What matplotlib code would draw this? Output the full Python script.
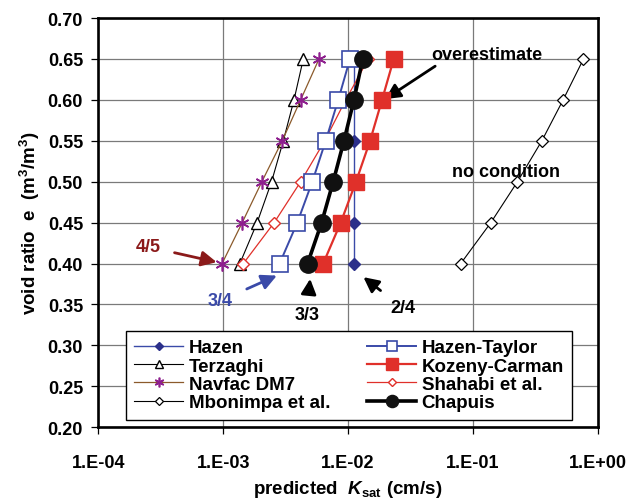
import matplotlib

matplotlib.use("Agg")
import matplotlib.pyplot as plt
import numpy as np
from matplotlib.ticker import FixedLocator, FuncFormatter, NullLocator

plt.rcParams["font.family"] = ["Liberation Sans", "DejaVu Sans"]
plt.rcParams["font.weight"] = "bold"
plt.rcParams["mathtext.fontset"] = "custom"
plt.rcParams["mathtext.rm"] = "Liberation Sans:bold"
plt.rcParams["mathtext.it"] = "Liberation Sans:italic:bold"
plt.rcParams["mathtext.bf"] = "Liberation Sans:bold"

# void ratios (m3/m3), shared by every method
void_ratio = [0.40, 0.45, 0.50, 0.55, 0.60, 0.65]

# predicted Ksat (cm/s) per method
k_hazen = [0.0112, 0.0112, 0.0112, 0.0112, 0.0112, 0.0112]
k_hazen_taylor = [0.00283, 0.00392, 0.00517, 0.00662, 0.00834, 0.01035]
k_terzaghi = [0.00136, 0.00187, 0.00244, 0.00303, 0.00369, 0.00438]
k_kozeny = [0.00632, 0.00873, 0.01157, 0.0150, 0.0187, 0.0232]
k_navfac = [0.00098, 0.00142, 0.00204, 0.00297, 0.00417, 0.00585]
k_shahabi = [0.00145, 0.00256, 0.00417, 0.0065, 0.00957, 0.01452]
k_mbonimpa = [0.0798, 0.139, 0.227, 0.356, 0.527, 0.767]
k_chapuis = [0.00474, 0.00614, 0.0076, 0.00927, 0.01115, 0.0131]

x_ticks = [1e-4, 1e-3, 1e-2, 1e-1, 1e0]
y_ticks = [0.20, 0.25, 0.30, 0.35, 0.40, 0.45, 0.50, 0.55, 0.60, 0.65, 0.70]

# legend reads down the first column, then the second
legend_order = ["Hazen", "Terzaghi", "Navfac DM7", "Mbonimpa et al.",
                "Hazen-Taylor", "Kozeny-Carman", "Shahabi et al.", "Chapuis"]

BLUE = "#3a4aa8"
NAVY = "#2b2f8a"
RED = "#e0302a"
BROWN = "#8b5a2b"
PURPLE = "#8e1f8e"
DARKRED = "#8b1a1a"

fig = plt.figure(figsize=(6.30, 5.02), dpi=100)
ax = fig.add_axes([0.156, 0.147, 0.793, 0.815])

ax.plot(k_hazen, void_ratio, color=BLUE, lw=1.0, marker="D", ms=6,
        mfc=NAVY, mec=NAVY, label="Hazen", zorder=3)
ax.plot(k_hazen_taylor, void_ratio, color=BLUE, lw=1.4, marker="s", ms=11,
        mfc="white", mec=BLUE, mew=1.2, label="Hazen-Taylor", zorder=4)
ax.plot(k_terzaghi, void_ratio, color="black", lw=0.8, marker="^", ms=8,
        mfc="white", mec="black", mew=1.0, label="Terzaghi", zorder=3)
ax.plot(k_kozeny, void_ratio, color=RED, lw=1.6, marker="s", ms=12,
        mfc=RED, mec=RED, label="Kozeny-Carman", zorder=4)
ax.plot(k_navfac, void_ratio, color=BROWN, lw=0.9, marker=(6, 2, 0), ms=10,
        mec=PURPLE, mew=1.2, label="Navfac DM7", zorder=3)
ax.plot(k_shahabi, void_ratio, color=RED, lw=0.9, marker="D", ms=6.5,
        mfc="white", mec=RED, mew=1.0, label="Shahabi et al.", zorder=3)
ax.plot(k_mbonimpa, void_ratio, color="black", lw=0.8, marker="D", ms=6,
        mfc="white", mec="black", mew=0.9, label="Mbonimpa et al.", zorder=3)
ax.plot(k_chapuis, void_ratio, color="black", lw=2.6, marker="o", ms=12.5,
        mfc="#111111", mec="#111111", label="Chapuis", zorder=5)

ax.set_xscale("log")
ax.set_xlim(1e-4, 1e0)
ax.set_ylim(0.20, 0.70)
ax.xaxis.set_major_locator(FixedLocator(x_ticks))
ax.xaxis.set_minor_locator(NullLocator())
ax.xaxis.set_major_formatter(
    FuncFormatter(lambda v, p: "1.E%+03d" % round(np.log10(v))))
ax.set_yticks(y_ticks)
ax.yaxis.set_major_formatter(FuncFormatter(lambda v, p: f"{v:.2f}"))

ax.grid(True, color="#7a7a7a", lw=0.9)
ax.set_axisbelow(True)
for s in ax.spines.values():
    s.set_linewidth(1.9)
ax.tick_params(axis="both", direction="out", length=5, width=0.9,
               labelsize=13, pad=6)
ax.tick_params(axis="x", pad=14)

ax.set_xlabel(r"predicted  $K_{\rm sat}$ (cm/s)", fontsize=13.5,
              fontweight="bold", labelpad=5)
ax.set_ylabel(r"void ratio  e  (m$^{3}$/m$^{3}$)", fontsize=13.5,
              fontweight="bold", labelpad=4)

# Labels and arrows for the various conditions
arrow_kw = dict(arrowstyle="-|>,head_length=0.7,head_width=0.35", lw=2.0)
ax.annotate("overestimate", xy=(0.0198, 0.601), xytext=(0.129, 0.655),
            ha="center", va="center", fontsize=13, fontweight="bold",
            arrowprops=dict(color="black", shrinkA=0, shrinkB=0,
                            relpos=(0.12, 0.2), **arrow_kw))
ax.text(0.185, 0.512, "no condition", ha="center", va="center",
        fontsize=13, fontweight="bold")
ax.annotate("4/5", xy=(8.87e-4, 0.4017), xytext=(2.52e-4, 0.4204),
            ha="center", va="center", fontsize=13, fontweight="bold",
            color=DARKRED,
            arrowprops=dict(color=DARKRED, shrinkA=8, shrinkB=0, **arrow_kw))
ax.annotate("3/4", xy=(2.69e-3, 0.3853), xytext=(9.44e-4, 0.3544),
            ha="center", va="center", fontsize=13, fontweight="bold",
            color=BLUE,
            arrowprops=dict(color=BLUE, shrinkA=9, shrinkB=0, **arrow_kw))
ax.annotate("3/3", xy=(4.97e-3, 0.3813), xytext=(4.66e-3, 0.3373),
            ha="center", va="center", fontsize=13, fontweight="bold",
            arrowprops=dict(color="black", shrinkA=9, shrinkB=0, **arrow_kw))
ax.annotate("2/4", xy=(0.01327, 0.3834), xytext=(0.02735, 0.3459),
            ha="center", va="center", fontsize=13, fontweight="bold",
            arrowprops=dict(color="black", shrinkA=7, shrinkB=0, **arrow_kw))

handles, labels = ax.get_legend_handles_labels()
by_label = dict(zip(labels, handles))
leg = ax.legend([by_label[n] for n in legend_order], legend_order, ncol=2,
                loc="lower left",
                bbox_to_anchor=(0.055, 0.0186, 0.894, 0.228), mode="expand",
                borderaxespad=0, fontsize=13.5, markerscale=0.7,
                handlelength=2.6, handletextpad=0.3, labelspacing=0.06,
                borderpad=0.45, columnspacing=1.0, fancybox=False,
                framealpha=1, edgecolor="black")
leg.get_frame().set_linewidth(1.0)
leg.set_zorder(6)

fig.savefig("out.png", dpi=100)
